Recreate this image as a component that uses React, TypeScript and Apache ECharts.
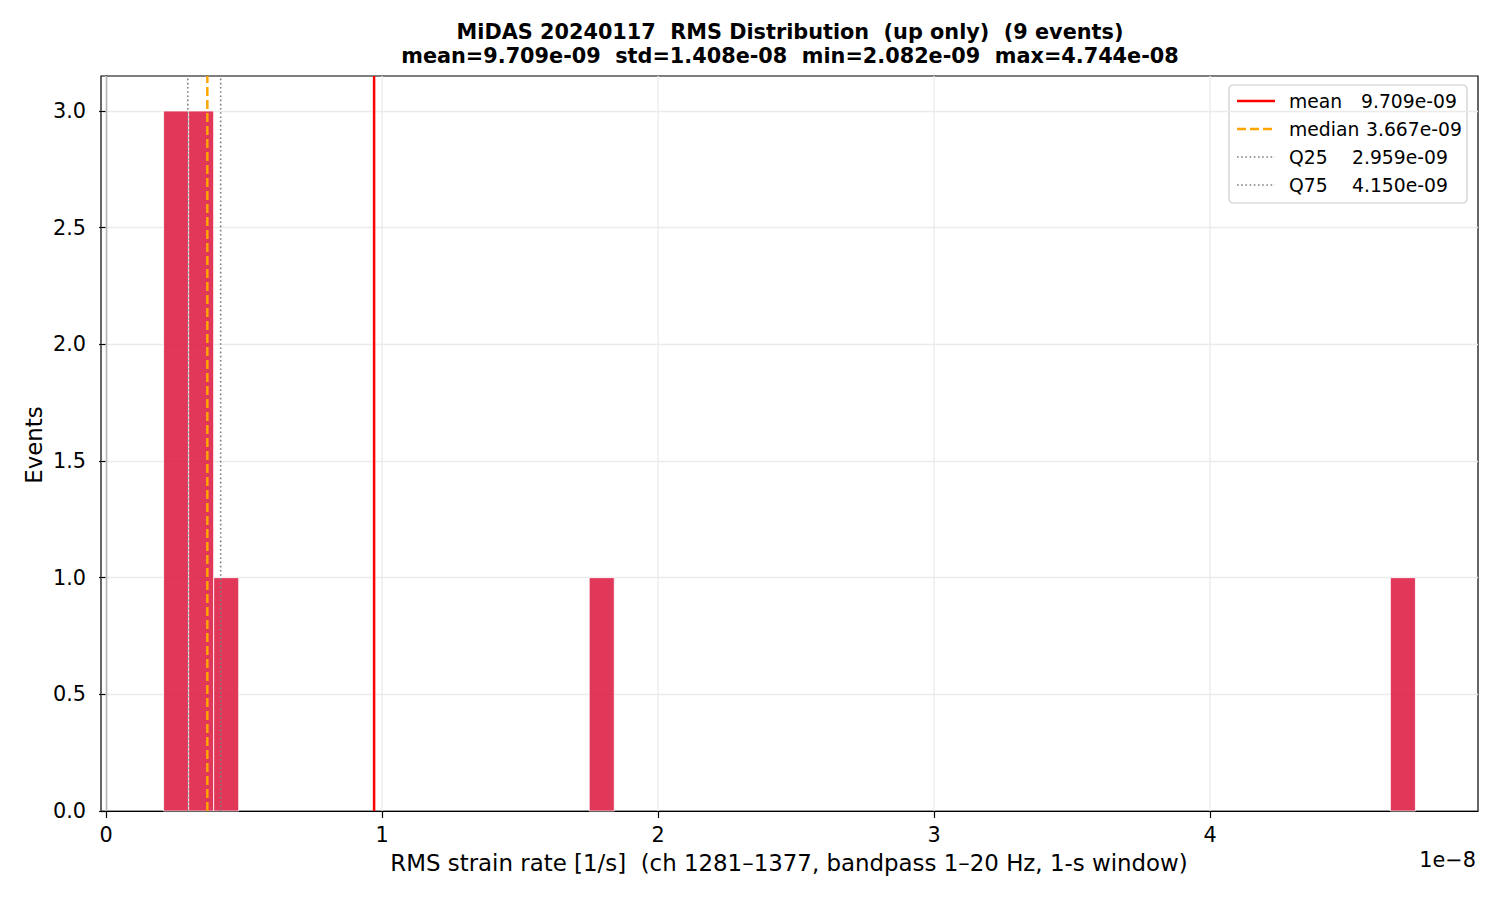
import { useEffect, useRef } from "react";
import * as echarts from "echarts";

// histogram bins that are not empty (left edge in 1/s, count)
const binLeft = [2.082e-9, 2.989e-9, 3.896e-9, 1.7504e-8, 4.6533e-8];
const binCounts = [3, 3, 1, 1, 1];
const binWidth = 9.0716e-10;

const statNames = ["mean", "median", "Q25", "Q75"];
const statValues = [9.709e-9, 3.667e-9, 2.959e-9, 4.15e-9];
const statLabels = ["9.709e-09", "3.667e-09", "2.959e-09", "4.150e-09"];

const xTicks = [0, 1, 2, 3, 4];
const yTicks = [0, 0.5, 1.0, 1.5, 2.0, 2.5, 3.0];

const X_SCALE = 1e-8;
const X_MIN = -0.0186;
const X_MAX = 4.9708;
const Y_MAX = 3.15;

const FONT = "DejaVu Sans";

const statStyles = [
  { color: "#ff0000", width: 2.5, dash: "solid" as any },
  { color: "#ffa500", width: 2.5, dash: [9, 4] },
  { color: "#808080", width: 1.6, dash: [1.6, 2.6] },
  { color: "#808080", width: 1.6, dash: [1.6, 2.6] }
];

export default function App() {
  const chartRef = useRef<HTMLDivElement>(null);

  useEffect(() => {
    if (!chartRef.current) return;
    const chart = echarts.init(chartRef.current, null, { renderer: "svg" });

    const barData = binLeft.map((l, i) => [l / X_SCALE, (l + binWidth) / X_SCALE, binCounts[i]]);

    const gridLines = xTicks.map(t => ({
      type: "line",
      silent: true,
      z: 1,
      symbol: "none",
      data: [
        [t, 0],
        [t, Y_MAX]
      ],
      lineStyle: { color: "#ebebeb", width: 1.3 }
    }));

    const statLines = statValues.map((v, i) => ({
      type: "line",
      name: statNames[i],
      silent: true,
      z: 5,
      symbol: "none",
      data: [
        [v / X_SCALE, 0],
        [v / X_SCALE, Y_MAX]
      ],
      lineStyle: { color: statStyles[i].color, width: statStyles[i].width, type: statStyles[i].dash }
    }));

    // legend drawn by hand to mimic matplotlib's box
    const lx = 1229;
    const ly = 85;
    const rowY = [101, 129, 157, 185];
    const valueX = [1361, 1366, 1352, 1352];
    const legendItems: any[] = [
      {
        type: "rect",
        shape: { x: lx, y: ly, width: 238, height: 118, r: 4 },
        style: { fill: "rgba(255,255,255,0.8)", stroke: "#cccccc", lineWidth: 1.2 }
      }
    ];
    statNames.forEach((n, i) => {
      legendItems.push({
        type: "line",
        shape: { x1: 1237, y1: rowY[i], x2: 1275, y2: rowY[i] },
        style: {
          stroke: statStyles[i].color,
          lineWidth: statStyles[i].width,
          lineDash: statStyles[i].dash === "solid" ? null : statStyles[i].dash
        }
      });
      legendItems.push({
        type: "text",
        x: 1289,
        y: rowY[i],
        style: { text: n, font: `18.75px ${FONT}`, fill: "#000", verticalAlign: "middle" }
      });
      legendItems.push({
        type: "text",
        x: valueX[i],
        y: rowY[i],
        style: { text: statLabels[i], font: `18.75px ${FONT}`, fill: "#000", verticalAlign: "middle" }
      });
    });

    const option = {
      animation: false,
      backgroundColor: "#ffffff",
      textStyle: { fontFamily: FONT },
      grid: {
        left: 101,
        top: 76,
        right: 22,
        bottom: 89,
        show: true,
        borderColor: "#000",
        borderWidth: 1.2,
        backgroundColor: "transparent"
      },
      xAxis: {
        type: "value",
        min: X_MIN,
        max: X_MAX,
        axisLine: { show: true, lineStyle: { color: "#000", width: 1.2 } },
        axisTick: { show: true, length: 7, customValues: xTicks, lineStyle: { color: "#000", width: 1.2 } },
        axisLabel: {
          customValues: xTicks,
          color: "#000",
          fontSize: 20.8,
          fontFamily: FONT,
          margin: 13,
          formatter: (v: number) => String(Math.round(v))
        },
        splitLine: { show: false }
      },
      yAxis: {
        type: "value",
        min: 0,
        max: Y_MAX,
        interval: 0.5,
        axisLine: { show: true, lineStyle: { color: "#000", width: 1.2 } },
        axisTick: { show: true, length: 7, customValues: yTicks, lineStyle: { color: "#000", width: 1.2 } },
        axisLabel: {
          customValues: yTicks,
          color: "#000",
          fontSize: 20.8,
          fontFamily: FONT,
          margin: 15,
          formatter: (v: number) => v.toFixed(1)
        },
        splitLine: { show: true, lineStyle: { color: "#ebebeb", width: 1.3 } }
      },
      graphic: [
        {
          type: "text",
          x: 790,
          y: 20,
          style: {
            text: "MiDAS 20240117  RMS Distribution  (up only)  (9 events)\nmean=9.709e-09  std=1.408e-08  min=2.082e-09  max=4.744e-08",
            font: `bold 20.8px ${FONT}`,
            fill: "#000",
            align: "center",
            verticalAlign: "top",
            lineHeight: 24
          }
        },
        {
          type: "text",
          x: 789,
          y: 863,
          style: {
            text: "RMS strain rate [1/s]  (ch 1281\u20131377, bandpass 1\u201320 Hz, 1-s window)",
            font: `22.9px ${FONT}`,
            fill: "#000",
            align: "center",
            verticalAlign: "middle"
          }
        },
        {
          type: "text",
          x: 1476,
          y: 860,
          style: {
            text: "1e\u22128",
            font: `20.8px ${FONT}`,
            fill: "#000",
            align: "right",
            verticalAlign: "middle"
          }
        },
        {
          type: "text",
          x: 34,
          y: 445,
          rotation: Math.PI / 2,
          style: {
            text: "Events",
            font: `22.9px ${FONT}`,
            fill: "#000",
            align: "center",
            verticalAlign: "middle"
          }
        },
        ...legendItems
      ],
      series: [
        ...gridLines,
        {
          type: "custom",
          z: 3,
          silent: true,
          data: barData,
          encode: { x: [0, 1], y: 2 },
          renderItem: (_params: any, api: any) => {
            const p0 = api.coord([api.value(0), 0]);
            const p1 = api.coord([api.value(1), api.value(2)]);
            return {
              type: "rect",
              shape: { x: p0[0], y: p1[1], width: p1[0] - p0[0], height: p0[1] - p1[1] },
              style: { fill: "rgba(220,20,60,0.85)", stroke: "#ffffff", lineWidth: 0.8 }
            };
          }
        },
        ...statLines
      ]
    };

    chart.setOption(option as any);
    return () => {
      chart.dispose();
    };
  }, []);

  return (
    <div
      ref={chartRef}
      style={{ position: "fixed", left: 0, top: 0, width: "1500px", height: "900px", background: "#fff" }}
    />
  );
}
